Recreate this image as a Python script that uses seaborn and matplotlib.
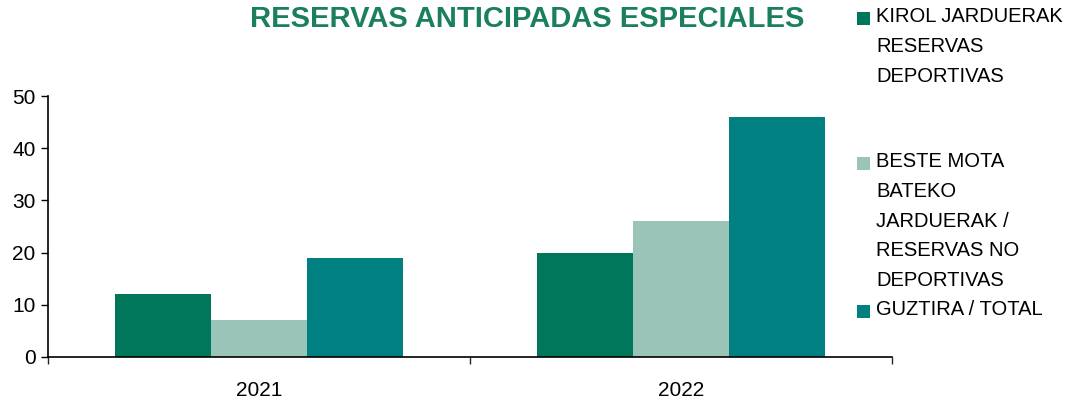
import matplotlib
matplotlib.use("Agg")
import matplotlib.pyplot as plt
import seaborn as sns
import pandas as pd
from matplotlib.patches import Rectangle

# Datos
years = ["2021", "2022"]
series = [
    "KIROL JARDUERAK\nRESERVAS\nDEPORTIVAS",
    "BESTE MOTA\nBATEKO\nJARDUERAK /\nRESERVAS NO\nDEPORTIVAS",
    "GUZTIRA / TOTAL",
]
deportivas = [12, 20]
no_deportivas = [7, 26]
total = [19, 46]
colors = ["#00765A", "#9AC4B7", "#008080"]

rows = []
for i, y in enumerate(years):
    for s, vals in zip(series, [deportivas, no_deportivas, total]):
        rows.append({"year": y, "serie": s, "valor": vals[i]})
df = pd.DataFrame(rows)

sns.set_style("white")
plt.rcParams["font.family"] = ["Liberation Sans", "DejaVu Sans"]

fig = plt.figure(figsize=(10.76, 4.0), dpi=100)
ax = fig.add_axes([0.0446, 0.1075, 0.7845, 0.6525])

sns.barplot(data=df, x="year", y="valor", hue="serie", hue_order=series,
            palette=colors, width=0.684, saturation=1, linewidth=0,
            ax=ax, legend=False)

ax.set_ylim(0, 50)
ax.set_xlim(-0.5, 1.5)
ax.set_yticks(range(0, 51, 10))
ax.set_xlabel("")
ax.set_ylabel("")
for side in ["top", "right"]:
    ax.spines[side].set_visible(False)
for side in ["left", "bottom"]:
    ax.spines[side].set_color("black")
    ax.spines[side].set_linewidth(1.2)

ax.tick_params(axis="y", direction="out", length=5, width=1, colors="black",
               labelsize=15, left=True, pad=4)
ax.tick_params(axis="x", which="major", length=0, labelsize=15, pad=17,
               labelcolor="black")
ax.set_xticks([-0.5, 0.5, 1.5], minor=True)
ax.tick_params(axis="x", which="minor", direction="out", length=5, width=1,
               bottom=True)

fig.text(0.49, 0.953, "RESERVAS ANTICIPADAS ESPECIALES", ha="center",
         va="center", fontsize=21, fontweight="bold", color="#1A7F5E")

# leyenda manual
legend_y = [18, 163, 311]
for lbl, col, ypx in zip(series, colors, legend_y):
    fig.patches.append(Rectangle((857 / 1076, 1 - (ypx + 7) / 400), 13 / 1076,
                                 13 / 400, transform=fig.transFigure,
                                 facecolor=col, edgecolor="none"))
    fig.text(876 / 1076, 1 - (ypx - 11) / 400, lbl, ha="left", va="top",
             fontsize=14.5, linespacing=1.72, color="black")

fig.savefig("out.png", dpi=100)
